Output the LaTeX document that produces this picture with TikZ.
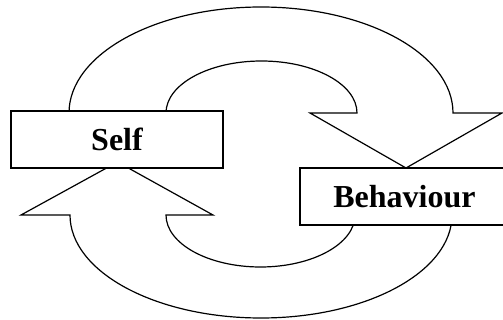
\documentclass[tikz,border=0pt]{standalone}
\usepackage{fontspec}
\setmainfont{Liberation Serif}
\begin{document}
\begin{tikzpicture}[x=1pt,y=1pt,
  line join=miter,
  shapeline/.style={draw=black, fill=white, line width=1.2pt},
  labelbox/.style={draw=black, fill=white, line width=1.2pt, rectangle, inner sep=0pt,
    font=\fontsize{32}{38}\selectfont\bfseries}]
\useasboundingbox (0,0) rectangle (503,-320);
% top curved arrow (Self -> Behaviour)
\path[shapeline] (69,-113) arc[start angle=180, end angle=0, x radius=192, y radius=106]
  -- (502,-113) -- (406,-168) -- (310,-113) -- (357,-113)
  arc[start angle=0, end angle=180, x radius=95.5, y radius=52] -- cycle;
% bottom curved arrow (Behaviour -> Self)
\path[shapeline] (21,-215) -- (117.5,-162) -- (213,-215) -- (166,-215)
  arc[start angle=180, end angle=360, x radius=94.5, y radius=52]
  -- (452,-215)
  arc[start angle=0, end angle=-180, x radius=191, y radius=103] -- cycle;
% boxes
\node[labelbox, minimum width=212pt, minimum height=57pt] (self) at (117,-139.5) {Self};
\node[labelbox, minimum width=209pt, minimum height=57pt] (beh) at (404.5,-196.5) {Behaviour};
\end{tikzpicture}
\end{document}
